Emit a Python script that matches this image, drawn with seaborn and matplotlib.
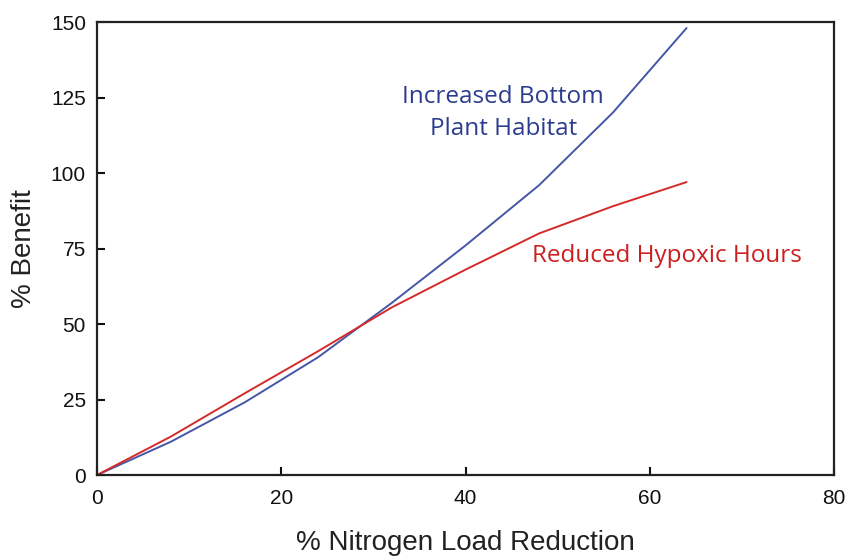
import pandas as pd
import matplotlib
matplotlib.use("Agg")
import matplotlib.pyplot as plt
import seaborn as sns

# Values
nitrogen_reduction = [0, 8, 16, 24, 32, 40, 48, 56, 62, 64]
bottom_habitat = [0, 11, 24, 39, 57, 76, 96, 120, 141, 148]
hypoxic_hours = [0, 12.7, 27, 41, 55.5, 68, 80, 89, 95, 97]

blue = "#4656a6"
red = "#d42a2a"

df = pd.DataFrame({
    "reduction": nitrogen_reduction * 2,
    "benefit": bottom_habitat + hypoxic_hours,
    "series": ["Increased Bottom Plant Habitat"] * len(nitrogen_reduction)
    + ["Reduced Hypoxic Hours"] * len(nitrogen_reduction),
})

sns.set_style("ticks")
plt.rcParams["font.family"] = ["Liberation Sans", "DejaVu Sans"]

fig = plt.figure(figsize=(8.49, 5.57), dpi=100)
ax = fig.add_axes([0.1143, 0.1472, 0.868, 0.8133])

sns.lineplot(
    data=df, x="reduction", y="benefit", hue="series",
    palette=[blue, red], linewidth=1.4, legend=False, ax=ax, sort=False,
)

ax.set_xlim(0, 80)
ax.set_ylim(0, 150)
ax.set_xticks([0, 20, 40, 60, 80])
ax.set_yticks([0, 25, 50, 75, 100, 125, 150])
ax.tick_params(direction="in", length=6, width=1.5, labelsize=15, colors="#111111")
ax.tick_params(axis="x", pad=10)
ax.tick_params(axis="y", pad=8)
for s in ax.spines.values():
    s.set_visible(True)
    s.set_linewidth(1.6)
    s.set_color("#222222")

ax.set_xlabel("% Nitrogen Load Reduction", fontsize=20, labelpad=16, color="#222222")
ax.set_ylabel("% Benefit", fontsize=20, labelpad=10, color="#222222")

ax.text(44.1, 120, "Increased Bottom\nPlant Habitat", color="#2b3c8f",
        fontsize=17.5, family=["Open Sans", "DejaVu Sans"], ha="center", va="center",
        linespacing=1.45)
ax.text(47.2, 72.5, "Reduced Hypoxic Hours", color="#cc1f1f",
        fontsize=17.5, family=["Open Sans", "DejaVu Sans"], ha="left", va="center")

fig.savefig("out.png", dpi=100)
